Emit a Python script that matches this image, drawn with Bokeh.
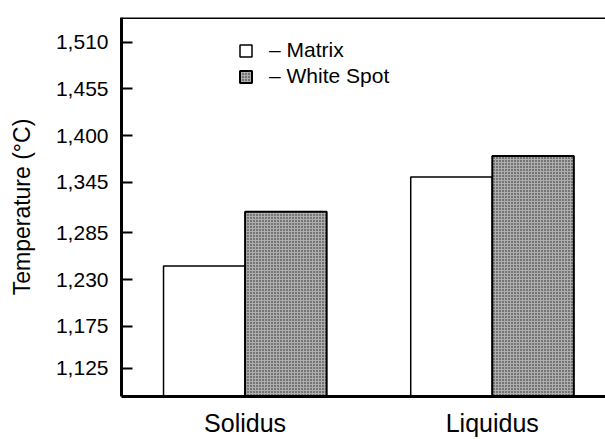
from bokeh.plotting import figure
from bokeh.models import (ColumnDataSource, FixedTicker, Range1d, Legend, LegendItem, Span)
from bokeh.embed import file_html
from bokeh.resources import INLINE

# ---- data ----
categories = ["Solidus", "Liquidus"]
series_names = ["Matrix", "White Spot"]
matrix_values = [1246, 1351]
white_spot_values = [1310, 1376]
y_tick_values = [1125, 1175, 1230, 1285, 1345, 1400, 1455, 1510]
y_tick_labels = ["1,125", "1,175", "1,230", "1,285", "1,345", "1,400", "1,455", "1,510"]

FONT = "Liberation Sans, Arial, Helvetica, sans-serif"

idx = list(range(len(categories)))
bar_w = 0.33
src_m = ColumnDataSource(dict(x=[i - bar_w / 2 for i in idx], top=matrix_values))
src_w = ColumnDataSource(dict(x=[i + bar_w / 2 for i in idx], top=white_spot_values))

y0, y1 = 1091.9, 1539.4
p = figure(width=605, height=439, output_backend="svg", toolbar_location=None,
           x_range=Range1d(-0.5, 1.458), y_range=Range1d(y0, y1),
           min_border_left=121, min_border_top=17, min_border_bottom=43,
           min_border_right=0, outline_line_color=None)
p.background_fill_color = "white"
p.border_fill_color = "white"
p.xgrid.visible = False
p.ygrid.visible = False

r_m = p.vbar(x="x", top="top", bottom=y0, width=bar_w, source=src_m,
             fill_color="white", line_color="black", line_width=1.5)
r_w = p.vbar(x="x", top="top", bottom=y0, width=bar_w, source=src_w,
             fill_color="#aeaeae", line_color="black", line_width=2,
             hatch_pattern="dot", hatch_color="#1e1e1e", hatch_scale=3, hatch_weight=1)

# y axis
ya = p.yaxis[0]
ya.ticker = FixedTicker(ticks=y_tick_values)
ya.major_label_overrides = {v: l for v, l in zip(y_tick_values, y_tick_labels)}
ya.major_tick_in = 11
ya.major_tick_out = 0
ya.minor_tick_in = 0
ya.minor_tick_out = 0
ya.major_tick_line_width = 2
ya.axis_line_width = 3
ya.major_label_text_font = FONT
ya.major_label_text_font_size = "21px"
ya.major_label_text_color = "black"
ya.major_label_standoff = 13
ya.axis_label = "Temperature (°C)"
ya.axis_label_text_font = FONT
ya.axis_label_text_font_size = "23px"
ya.axis_label_text_font_style = "normal"
ya.axis_label_text_color = "black"
ya.axis_label_standoff = 18

# x axis
xa = p.xaxis[0]
xa.ticker = FixedTicker(ticks=idx)
xa.major_label_overrides = {i: c for i, c in zip(idx, categories)}
xa.major_tick_in = 0
xa.major_tick_out = 0
xa.minor_tick_in = 0
xa.minor_tick_out = 0
xa.axis_line_width = 3
xa.major_label_text_font = FONT
xa.major_label_text_font_size = "25px"
xa.major_label_text_color = "black"
xa.major_label_standoff = 12

# top frame line
p.add_layout(Span(location=y1, dimension="width", line_color="black", line_width=3))

legend = Legend(items=[LegendItem(label="– " + series_names[0], renderers=[r_m]),
                       LegendItem(label="– " + series_names[1], renderers=[r_w])],
                location=(117, 308), padding=0, margin=0, spacing=2,
                glyph_width=15, glyph_height=15, label_height=20, label_standoff=16,
                border_line_color=None, background_fill_alpha=0,
                label_text_font=FONT, label_text_font_size="21px",
                label_text_color="black")
p.add_layout(legend)

open("out.html", "w").write(file_html(p, INLINE))
